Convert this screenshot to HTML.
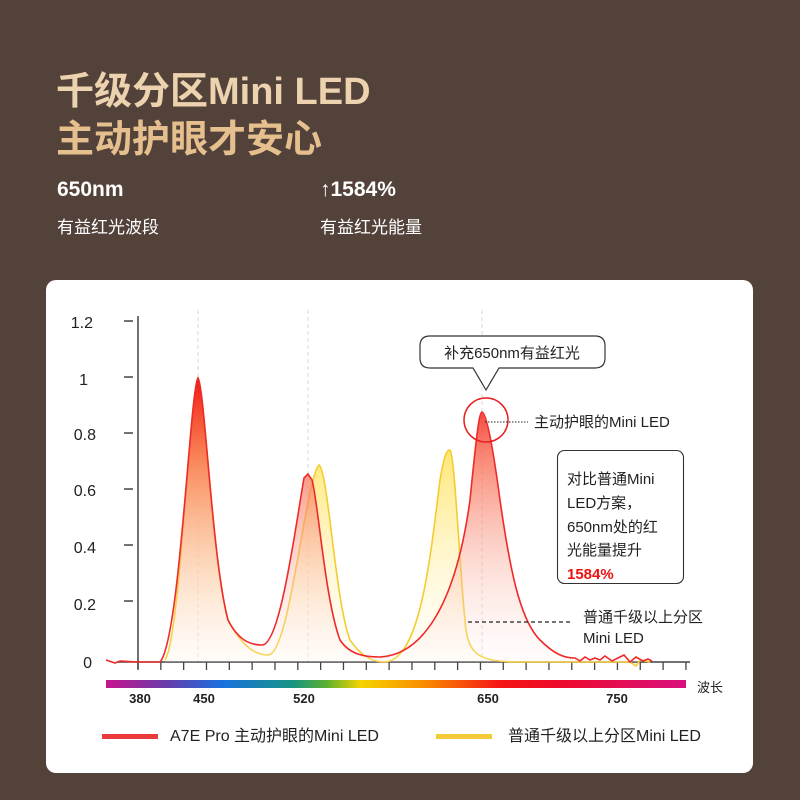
<!DOCTYPE html>
<html><head><meta charset="utf-8">
<style>
html,body{margin:0;padding:0;}
body{width:800px;height:800px;background:#53423a;position:relative;overflow:hidden;font-family:"Liberation Sans","Noto Sans CJK SC",sans-serif;}
.t{position:absolute;white-space:nowrap;}
.h{font-size:38px;font-weight:bold;color:#ecd2ae;left:56px;}
.card{position:absolute;left:46px;top:280px;width:707px;height:493px;background:#fff;border-radius:10px;}
</style></head><body>
<div class="t h" style="top:60px;">千级分区Mini LED</div>
<div class="t h" style="top:108px;color:#e6bf8e;">主动护眼才安心</div>
<div class="t" style="left:57px;top:178px;font-size:21px;font-weight:bold;color:#fff;">650nm</div>
<div class="t" style="left:57px;top:213px;font-size:17px;color:#fff;">有益红光波段</div>
<div class="t" style="left:320px;top:178px;font-size:21px;font-weight:bold;color:#fff;">↑1584%</div>
<div class="t" style="left:320px;top:213px;font-size:17px;color:#fff;">有益红光能量</div>
<div class="card"></div>
<svg style="position:absolute;left:0;top:0" width="800" height="800">
<defs>
<linearGradient id="rg" x1="0" y1="0" x2="0" y2="1"><stop offset="0" stop-color="#f01818"/><stop offset="0.3" stop-color="#f86a50" stop-opacity="0.75"/><stop offset="0.7" stop-color="#fbb8a8" stop-opacity="0.4"/><stop offset="1" stop-color="#fff4f2" stop-opacity="0.2"/></linearGradient>
<linearGradient id="yg" x1="0" y1="0" x2="0" y2="1"><stop offset="0" stop-color="#ffd820"/><stop offset="1" stop-color="#fffbe8" stop-opacity="0.2"/></linearGradient>
<linearGradient id="rb" x1="0" y1="0" x2="1" y2="0">
<stop offset="0" stop-color="#c8148e"/><stop offset="0.1" stop-color="#6a3aa8"/><stop offset="0.2" stop-color="#1a70e0"/><stop offset="0.32" stop-color="#159485"/><stop offset="0.38" stop-color="#5cb030"/><stop offset="0.44" stop-color="#f6d400"/><stop offset="0.55" stop-color="#f88a00"/><stop offset="0.68" stop-color="#f51515"/><stop offset="0.78" stop-color="#ee0a2a"/><stop offset="1" stop-color="#d8107e"/></linearGradient>
</defs>
<g stroke="#d8d8d8" stroke-dasharray="4,3" stroke-width="1">
<line x1="198" y1="310" x2="198" y2="662"/><line x1="308" y1="310" x2="308" y2="662"/><line x1="482" y1="310" x2="482" y2="662"/>
</g>
<g font-size="16" fill="#222" text-anchor="end">
<text x="93" y="328">1.2</text><text x="88" y="385">1</text><text x="96" y="440">0.8</text><text x="96" y="496">0.6</text><text x="96" y="553">0.4</text><text x="96" y="610">0.2</text><text x="92" y="668">0</text>
</g>
<g stroke="#444" stroke-width="1.5">
<line x1="124" y1="321" x2="133" y2="321"/><line x1="124" y1="377" x2="133" y2="377"/><line x1="124" y1="433" x2="133" y2="433"/><line x1="124" y1="489" x2="133" y2="489"/><line x1="124" y1="545" x2="133" y2="545"/><line x1="124" y1="601" x2="133" y2="601"/>
<line x1="138" y1="316" x2="138" y2="669"/>
<line x1="117" y1="662" x2="690" y2="662"/>
</g>
<g stroke="#444" stroke-width="1.3" id="ticks"></g>
<path d="M165,660 C180,640 190,390 198,378 C205,390 212,560 228,620 C240,642 252,655 268,655 C290,655 305,480 319,465 C328,470 335,600 350,640 C360,655 372,662 384,662 C420,662 430,560 440,480 C445,450 448,450 450,450 C455,455 460,580 466,630 C470,655 480,662 520,662 L650,662 Z" fill="url(#yg)" stroke="none"/>
<path d="M165,660 C180,640 190,390 198,378 C205,390 212,560 228,620 C240,642 252,655 268,655 C290,655 305,480 319,465 C328,470 335,600 350,640 C360,655 372,662 384,662 C420,662 430,560 440,480 C445,450 448,450 450,450 C455,455 460,580 466,630 C470,655 480,662 520,662 L630,662 L636,666 L640,660 L650,662" fill="none" stroke="#f5cc30" stroke-width="1.6"/>
<path d="M165,660 C180,640 190,390 198,378 C205,390 212,560 228,620 C238,640 250,645 262,645 C280,645 295,530 304,478 L308,474 L312,480 C318,500 325,600 340,640 C350,655 365,657 380,657 C420,655 455,610 470,500 C476,440 479,412 482,412 C486,412 492,440 500,500 C510,570 520,620 540,640 C555,655 565,658 575,658 L650,662 L165,662 Z" fill="url(#rg)" stroke="none"/>
<path d="M106,660 L115,663 L120,661 L138,662 L160,662 C180,640 190,390 198,378 C205,390 212,560 228,620 C238,640 250,645 262,645 C280,645 295,530 304,478 L308,474 L312,480 C318,500 325,600 340,640 C350,655 365,657 380,657 C420,655 455,610 470,500 C476,440 479,412 482,412 C486,412 492,440 500,500 C510,570 520,620 540,640 C555,655 565,658 575,658 L580,661 L585,657 L590,660 L595,658 L600,660 L605,656 L612,661 L618,658 L624,655 L630,662 L636,657 L643,661 L648,659 L652,661" fill="none" stroke="#ee2a2a" stroke-width="1.6"/>
<rect x="106" y="680" width="580" height="8" fill="url(#rb)"/>
<g font-size="13" font-weight="bold" fill="#222" text-anchor="middle">
<text x="140" y="703">380</text><text x="204" y="703">450</text><text x="304" y="703">520</text><text x="488" y="703">650</text><text x="617" y="703">750</text>
</g>
<text x="697" y="692" font-size="13" fill="#222">波长</text>
<path d="M430,336 H595 Q605,336 605,346 V358 Q605,368 595,368 H499 L486,390 L473,368 H430 Q420,368 420,358 V346 Q420,336 430,336 Z" fill="#fff" stroke="#333" stroke-width="1.2"/>
<text x="512" y="358" font-size="15" fill="#222" text-anchor="middle">补充650nm有益红光</text>
<circle cx="486" cy="420" r="22" fill="none" stroke="#e82020" stroke-width="1.5"/>
<line x1="485" y1="422" x2="528" y2="422" stroke="#222" stroke-dasharray="1.5,1.5"/>
<text x="534" y="427" font-size="15" fill="#222">主动护眼的Mini LED</text>
<rect x="557.5" y="450.5" width="126" height="133" rx="7" fill="#fff" stroke="#333" stroke-width="1.1"/>
<g font-size="15" fill="#222">
<text x="567" y="484">对比普通Mini</text><text x="567" y="508">LED方案，</text><text x="567" y="532">650nm处的红</text><text x="567" y="555">光能量提升</text>
<text x="567" y="579" fill="#ee1010" font-weight="bold">1584%</text>
</g>
<line x1="468" y1="622" x2="573" y2="622" stroke="#222" stroke-dasharray="4,3" stroke-width="1.2"/>
<text x="583" y="622" font-size="15" fill="#222">普通千级以上分区</text>
<text x="583" y="643" font-size="15" fill="#222">Mini LED</text>
<rect x="102" y="734" width="56" height="5" fill="#ea3a3a"/>
<text x="170" y="741" font-size="16" fill="#222">A7E Pro 主动护眼的Mini LED</text>
<rect x="436" y="734" width="56" height="5" fill="#f3ca3a"/>
<text x="508" y="741" font-size="16" fill="#222">普通千级以上分区Mini LED</text>
</svg>
<script>
var g=document.getElementById('ticks'),s='';
for(var i=0;i<=24;i++){var x=138+i*22.83;s+='<line x1="'+x+'" y1="662" x2="'+x+'" y2="670"/>';}
g.innerHTML=s;
</script>
</body></html>
